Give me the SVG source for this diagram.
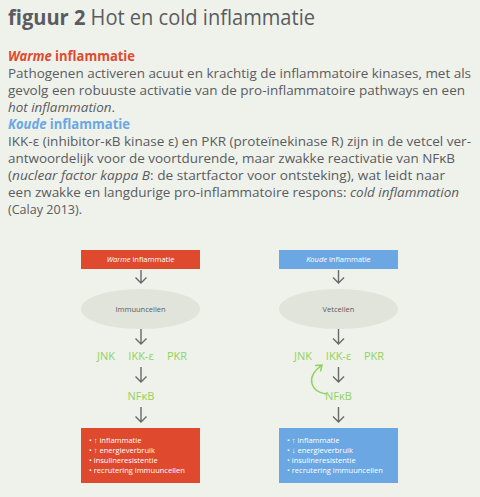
<svg xmlns="http://www.w3.org/2000/svg" width="480" height="497" viewBox="0 0 480 497">
<defs>
<style>
.t{font-family:"Open Sans","Liberation Sans",sans-serif;fill:#5a5c5f}
.b{font-size:13.5px}
.h{font-size:14px;font-weight:bold}
.sm{font-family:"Open Sans","Liberation Sans",sans-serif;font-size:7.5px;fill:#fff}
.gr{font-family:"Open Sans","Liberation Sans",sans-serif;font-size:11px;fill:#8fd35c;text-anchor:middle}
.el{fill:#e1e4db}
.ar{stroke:#6a6a6a;stroke-width:1.4;fill:none}
.lab{font-family:"Open Sans","Liberation Sans",sans-serif;font-size:7.5px;fill:#5a5c5e;text-anchor:middle}
</style>
</defs>
<rect width="480" height="497" fill="#eff1eb"/>
<text class="t" x="8" y="25" font-size="21.5" textLength="307" lengthAdjust="spacingAndGlyphs" fill="#5f6063"><tspan font-weight="bold">figuur 2</tspan> Hot en cold inflammatie</text>
<text class="t h" x="8" y="61" textLength="127" lengthAdjust="spacingAndGlyphs" style="fill:#df4a2e"><tspan font-style="italic">Warme</tspan> inflammatie</text>
<text class="t b" x="8" y="78" textLength="463" lengthAdjust="spacingAndGlyphs">Pathogenen activeren acuut en krachtig de inflammatoire kinases, met als</text>
<text class="t b" x="8" y="95" textLength="457" lengthAdjust="spacingAndGlyphs">gevolg een robuuste activatie van de pro-inflammatoire pathways en een</text>
<text class="t b" x="8" y="112" textLength="107" lengthAdjust="spacingAndGlyphs"><tspan font-style="italic">hot inflammation</tspan>.</text>
<text class="t h" x="8" y="129" textLength="122" lengthAdjust="spacingAndGlyphs" style="fill:#6ba8e3"><tspan font-style="italic">Koude</tspan> inflammatie</text>
<text class="t b" x="8" y="146" textLength="463" lengthAdjust="spacingAndGlyphs">IKK-ε (inhibitor-κB kinase ε) en PKR (proteïnekinase R) zijn in de vetcel ver-</text>
<text class="t b" x="8" y="163" textLength="447" lengthAdjust="spacingAndGlyphs">antwoordelijk voor de voortdurende, maar zwakke reactivatie van NFκB</text>
<text class="t b" x="8" y="180" textLength="437" lengthAdjust="spacingAndGlyphs">(<tspan font-style="italic">nuclear factor kappa B</tspan>: de startfactor voor ontsteking), wat leidt naar</text>
<text class="t b" x="8" y="197" textLength="451" lengthAdjust="spacingAndGlyphs">een zwakke en langdurige pro-inflammatoire respons: <tspan font-style="italic">cold inflammation</tspan></text>
<text class="t b" x="8" y="214" textLength="74" lengthAdjust="spacingAndGlyphs">(Calay 2013).</text>

<g id="connectors">
<path class="ar" d="M141 270V283M135.5 277.5L141 283L146.5 277.5"/>
<path class="ar" d="M141 329V344M135.5 338.5L141 344L146.5 338.5"/>
<path class="ar" d="M141 367V382M135.5 376.5L141 382L146.5 376.5"/>
<path class="ar" d="M141 407V422M135.5 416.5L141 422L146.5 416.5"/>
<path class="ar" d="M338.5 270V283M333 277.5L338.5 283L344 277.5"/>
<path class="ar" d="M338.5 329V344M333 338.5L338.5 344L344 338.5"/>
<path class="ar" d="M338.5 367V382M333 376.5L338.5 382L344 376.5"/>
<path class="ar" d="M338.5 407V422M333 416.5L338.5 422L344 416.5"/>
<path d="M326 394C312 392 304 378 322 365M315 365.5L322 365L320.5 371.5" fill="none" stroke="#8fd35c" stroke-width="1.5"/>
</g>

<g id="warm-top">
<rect x="81" y="250" width="119" height="19" fill="#df4a2e"/>
<text class="sm" x="140.5" y="262" text-anchor="middle"><tspan font-style="italic">Warme</tspan> inflammatie</text>
</g>
<g id="immuuncellen">
<ellipse class="el" cx="140.5" cy="309" rx="59.5" ry="20"/>
<text class="lab" x="140.5" y="312">Immuuncellen</text>
</g>
<g id="warm-kinases">
<text class="gr" x="106" y="360">JNK</text>
<text class="gr" x="141" y="360">IKK-ε</text>
<text class="gr" x="177" y="360">PKR</text>
</g>
<g id="warm-nfkb"><text class="gr" x="141" y="400">NFκB</text></g>
<g id="warm-result">
<rect x="81" y="428" width="119" height="55" fill="#df4a2e"/>
<text class="sm" x="89" y="443">• ↑ inflammatie</text>
<text class="sm" x="89" y="453">• ↑ energieverbruik</text>
<text class="sm" x="89" y="462.5">• insulineresistentie</text>
<text class="sm" x="89" y="472.5">• recrutering immuuncellen</text>
</g>

<g id="cold-top">
<rect x="279" y="250" width="119" height="19" fill="#6ba8e3"/>
<text class="sm" x="338.5" y="262" text-anchor="middle"><tspan font-style="italic">Koude</tspan> inflammatie</text>
</g>
<g id="vetcellen">
<ellipse class="el" cx="338.5" cy="309" rx="59.5" ry="20"/>
<text class="lab" x="338.5" y="312">Vetcellen</text>
</g>
<g id="cold-kinases">
<text class="gr" x="303" y="360">JNK</text>
<text class="gr" x="338.5" y="360">IKK-ε</text>
<text class="gr" x="374" y="360">PKR</text>
</g>
<g id="cold-nfkb"><text class="gr" x="338.5" y="400">NFκB</text></g>
<g id="cold-result">
<rect x="279" y="428" width="119" height="55" fill="#6ba8e3"/>
<text class="sm" x="287" y="443">• ↑ inflammatie</text>
<text class="sm" x="287" y="453">• ↓ energieverbruik</text>
<text class="sm" x="287" y="462.5">• insulineresistentie</text>
<text class="sm" x="287" y="472.5">• recrutering immuuncellen</text>
</g>
</svg>
